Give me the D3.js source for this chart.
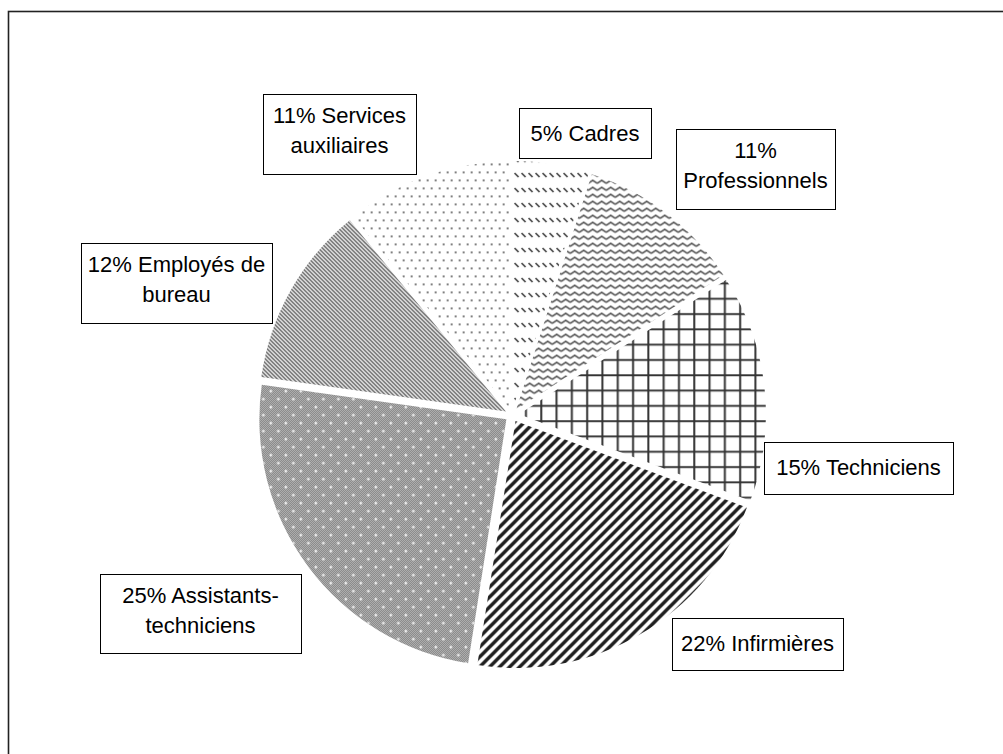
<!DOCTYPE html>
<html>
<head>
<meta charset="utf-8">
<script src="https://cdn.jsdelivr.net/npm/d3@7"></script>
<style>
  body { margin: 0; background: #fff; }
  text { font-family: "Liberation Sans", Arial, sans-serif; }
</style>
</head>
<body>
<div id="chart"></div>
<script>
// chart data, clockwise from 12 o'clock
const categories = ["Cadres", "Professionnels", "Techniciens", "Infirmières",
    "Assistants-techniciens", "Employés de bureau", "Services auxiliaires"];
const values = [5, 11, 15, 22, 25, 12, 11];
const labelLines = [
    ["5% Cadres"],
    ["11%", "Professionnels"],
    ["15% Techniciens"],
    ["22% Infirmières"],
    ["25% Assistants-", "techniciens"],
    ["12% Employés de", "bureau"],
    ["11% Services", "auxiliaires"]
];

// label box layout (x, y, w, h)
const labelBoxes = [
    [519, 108, 132, 50],
    [676, 129, 159, 80],
    [764, 442, 189, 52],
    [672, 618, 171, 52],
    [100, 574, 201, 79],
    [81, 243, 191, 80],
    [263, 94, 153, 80]
];

const width = 1003, height = 754;
const cx = 512, cy = 415, radius = 247, explode = 7;

const svg = d3.select("#chart").append("svg")
    .attr("width", width)
    .attr("height", height);

const defs = svg.append("defs");

// pattern helper
function pattern(id, w, h) {
    return defs.append("pattern")
        .attr("id", id)
        .attr("patternUnits", "userSpaceOnUse")
        .attr("width", w)
        .attr("height", h);
}

// cadres: short diagonal dashes
pattern("p0", 7, 15).append("path")
    .attr("d", "M1.5,5 L5.5,9")
    .attr("stroke", "#444").attr("stroke-width", 1.7).attr("fill", "none");

// professionnels: waves
pattern("p1", 9, 7).append("path")
    .attr("d", "M0,5 L4.5,2 L9,5")
    .attr("stroke", "#444").attr("stroke-width", 1.5).attr("fill", "none");

// techniciens: grid
pattern("p2", 15.3, 15.3).append("path")
    .attr("d", "M7,0 V15.3 M0,7 H15.3")
    .attr("stroke", "#333").attr("stroke-width", 2).attr("fill", "none");

// infirmieres: thick diagonal stripes "/"
pattern("p3", 10, 10).append("path")
    .attr("d", "M-2.5,2.5 L2.5,-2.5 M0,10 L10,0 M7.5,12.5 L12.5,7.5")
    .attr("stroke", "#1e1e1e").attr("stroke-width", 3.4).attr("fill", "none");

// assistants: fine checker + white dots
const p4a = pattern("p4a", 2, 2);
p4a.append("rect").attr("width", 2).attr("height", 2).attr("fill", "#fff");
p4a.append("rect").attr("width", 1).attr("height", 1).attr("fill", "#3a3a3a");
p4a.append("rect").attr("x", 1).attr("y", 1).attr("width", 1).attr("height", 1).attr("fill", "#3a3a3a");
const p4b = pattern("p4b", 15, 16);
p4b.append("path")
    .attr("d", "M3,4 h3 M4.5,2.5 v3 M10.5,12 h3 M12,10.5 v3")
    .attr("stroke", "#fff").attr("stroke-width", 1).attr("fill", "none");

// employes: fine diagonal stripes "\"
pattern("p5", 4, 4).append("path")
    .attr("d", "M-1,-1 L5,5 M-1,3 L1,5 M3,-1 L5,1")
    .attr("stroke", "#555").attr("stroke-width", 1.4).attr("fill", "none");

// services: sparse dots
const p6 = pattern("p6", 8, 16);
p6.append("circle").attr("cx", 2).attr("cy", 4).attr("r", 1).attr("fill", "#555");
p6.append("circle").attr("cx", 6).attr("cy", 12).attr("r", 1).attr("fill", "#555");

const fills = ["url(#p0)", "url(#p1)", "url(#p2)", "url(#p3)", "url(#p4a)", "url(#p5)", "url(#p6)"];

// outer frame
svg.append("rect")
    .attr("x", 8.5).attr("y", 11.5)
    .attr("width", 1100).attr("height", 1000)
    .attr("fill", "none").attr("stroke", "#222").attr("stroke-width", 1.6);

// pie
const pie = d3.pie().sort(null).value(d => d);
const arc = d3.arc().innerRadius(0).outerRadius(radius);
const arcs = pie(values);

const slices = svg.append("g")
    .attr("transform", `translate(${cx},${cy})`)
    .selectAll("g")
    .data(arcs)
    .join("g")
    .attr("transform", d => {
        const a = (d.startAngle + d.endAngle) / 2;
        return `translate(${explode * Math.sin(a)},${-explode * Math.cos(a)})`;
    });

slices.append("path")
    .attr("d", arc)
    .attr("fill", (d, i) => fills[i]);

// extra overlay of dots for assistants slice
slices.filter((d, i) => i === 4).append("path")
    .attr("d", arc)
    .attr("fill", "url(#p4b)");

// labels
const labels = svg.append("g").selectAll("g")
    .data(labelLines)
    .join("g");

labels.append("rect")
    .attr("x", (d, i) => labelBoxes[i][0] + 0.5)
    .attr("y", (d, i) => labelBoxes[i][1] + 0.5)
    .attr("width", (d, i) => labelBoxes[i][2])
    .attr("height", (d, i) => labelBoxes[i][3])
    .attr("fill", "#fff")
    .attr("stroke", "#000")
    .attr("stroke-width", 1);

labels.each(function(lines, i) {
    const [x, y, w, h] = labelBoxes[i];
    const first = lines.length === 1 ? y + 33 : y + 29;
    d3.select(this).selectAll("text")
        .data(lines)
        .join("text")
        .attr("x", x + w / 2)
        .attr("y", (d, j) => first + j * 30)
        .attr("text-anchor", "middle")
        .attr("font-size", "22px")
        .attr("fill", "#000")
        .text(d => d);
});
</script>
</body>
</html>
